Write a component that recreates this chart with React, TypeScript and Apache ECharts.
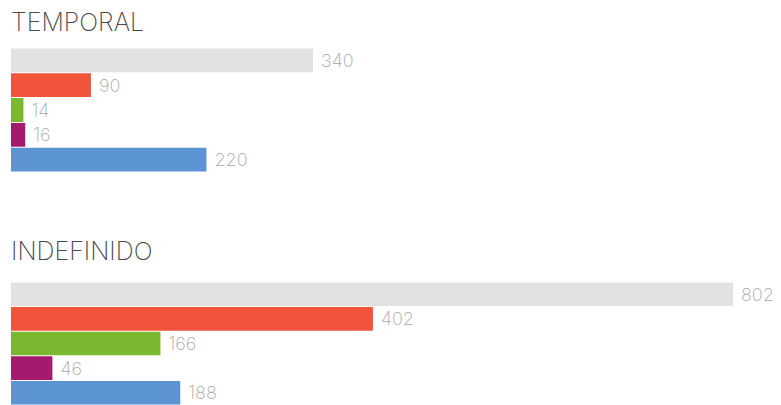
import React, { useEffect, useRef } from "react";
import * as echarts from "echarts";

const categories = ["Total", "A", "B", "C", "D"];
const temporalValues = [340, 90, 14, 16, 220];
const indefinidoValues = [802, 402, 166, 46, 188];
const barColors = ["#e2e2e2", "#f0543a", "#7cb82f", "#a31a6f", "#5b93d3"];
const titles = ["TEMPORAL", "INDEFINIDO"];

export default function App() {
  const ref = useRef<HTMLDivElement>(null);
  useEffect(() => {
    document.body.style.margin = "0";
    const chart = echarts.init(ref.current!, undefined, { renderer: "svg" });
    const mkData = (vals: number[]) =>
      vals.map((v, i) => ({ value: v, itemStyle: { color: barColors[i] } }));
    const label = {
      show: true,
      position: "right" as const,
      distance: 8,
      color: "#a8a8a8",
      fontSize: 18,
      fontFamily: "Inter, sans-serif",
      fontWeight: 200,
    };
    const titleStyle = {
      fontFamily: "Inter, sans-serif",
      fontWeight: 200,
      fontSize: 25,
      color: "#4a4a4a",
    };
    chart.setOption({
      animation: false,
      title: [
        { text: titles[0], left: 6, top: 4, textStyle: titleStyle },
        { text: titles[1], left: 6, top: 233, textStyle: titleStyle },
      ],
      grid: [
        { left: 11, top: 48, width: 302, height: 124 },
        { left: 11, top: 282, width: 722, height: 123 },
      ],
      xAxis: [
        { type: "value", gridIndex: 0, min: 0, max: "dataMax", show: false },
        { type: "value", gridIndex: 1, min: 0, max: "dataMax", show: false },
      ],
      yAxis: [
        { type: "category", gridIndex: 0, data: categories, inverse: true, show: false },
        { type: "category", gridIndex: 1, data: categories, inverse: true, show: false },
      ],
      series: [
        { type: "bar", xAxisIndex: 0, yAxisIndex: 0, data: mkData(temporalValues), barCategoryGap: "4%", label },
        { type: "bar", xAxisIndex: 1, yAxisIndex: 1, data: mkData(indefinidoValues), barCategoryGap: "4%", label },
      ],
    });
    return () => chart.dispose();
  }, []);
  return <div ref={ref} style={{ width: 781, height: 405 }} />;
}
